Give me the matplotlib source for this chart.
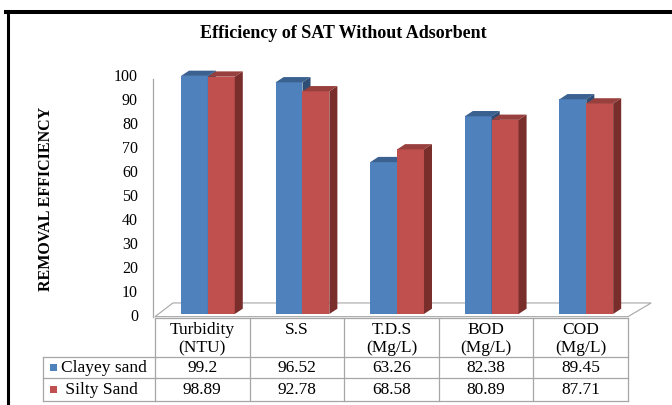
import numpy as np
import matplotlib
matplotlib.use("Agg")
import matplotlib.pyplot as plt
from matplotlib.patches import Polygon, Rectangle
from matplotlib.lines import Line2D
from matplotlib.transforms import blended_transform_factory, offset_copy

plt.rcParams['font.family'] = ['Liberation Serif', 'DejaVu Serif']

# data
categories = ["Turbidity\n(NTU)", "S.S", "T.D.S\n(Mg/L)", "BOD\n(Mg/L)", "COD\n(Mg/L)"]
series_names = ["Clayey sand", " Silty Sand"]
clayey = [99.2, 96.52, 63.26, 82.38, 89.45]
silty = [98.89, 92.78, 68.58, 80.89, 87.71]
yticks = [0, 10, 20, 30, 40, 50, 60, 70, 80, 90, 100]

# colours: front, top, side
blue = ("#4F81BD", "#3A6190", "#2E4E75")
red = ("#C0504D", "#98403D", "#7A2E2C")
grid_col = "#A6A6A6"

W, H = 672, 405
fig = plt.figure(figsize=(W / 100, H / 100), dpi=100)

def fx(px):
    return px / W

def fy(py):
    return 1 - py / H

# plot area: x in category units, y in value units
ax = fig.add_axes([fx(155), fy(314), fx(628) - fx(155), fy(74) - fy(314)])
ax.set_xlim(0, 5)
ax.set_ylim(0, 100)
ax.axis("off")

# 3d offsets in data units
dx, dy = 0.085, 2.2
w = 0.284
offs = [0.275, 0.559]

# floor
fdx0, fdx1, fback, ffront = 0.19, 0.245, 4.6, -1.1
floor = Polygon([(0, ffront), (5, ffront), (5 + fdx1, fback), (fdx0, fback)],
                closed=True, facecolor="white", edgecolor=grid_col, lw=0.8,
                clip_on=False, zorder=1)
ax.add_patch(floor)
ax.plot([-0.02, -0.02], [ffront, 98], color=grid_col, lw=0.9, clip_on=False, zorder=1)

z = 2
for i in range(len(categories)):
    for vals, cols, off in [(clayey, blue, offs[0]), (silty, red, offs[1])]:
        v = vals[i]
        x0 = i + off
        ax.bar(x0, v, width=w, align="edge", color=cols[0], lw=0, zorder=z, clip_on=False)
        top = Polygon([(x0, v), (x0 + w, v), (x0 + w + dx, v + dy), (x0 + dx, v + dy)],
                      closed=True, facecolor=cols[1], lw=0, zorder=z + 0.1, clip_on=False)
        side = Polygon([(x0 + w, 0), (x0 + w + dx, dy), (x0 + w + dx, v + dy), (x0 + w, v)],
                       closed=True, facecolor=cols[2], lw=0, zorder=z + 0.1, clip_on=False)
        ax.add_patch(top)
        ax.add_patch(side)
        z += 1

# y tick labels
tick_tr = offset_copy(blended_transform_factory(fig.transFigure, ax.transData),
                      fig=fig, x=0, y=-3, units="dots")
for t in yticks:
    ax.text(fx(138), t, str(t), transform=tick_tr, ha="right", va="center",
            fontsize=11.5, clip_on=False)

# data table
tr = blended_transform_factory(ax.transData, fig.transFigure)
rows_y = [fy(318), fy(357), fy(378), fy(401)]
lw_t = 0.9
for k in range(len(categories) + 1):
    fig.add_artist(Line2D([k, k], [rows_y[0], rows_y[3]], transform=tr, color=grid_col, lw=lw_t))
fig.add_artist(Line2D([0, 5], [rows_y[0]] * 2, transform=tr, color=grid_col, lw=lw_t))
for ry in rows_y[1:]:
    fig.add_artist(Line2D([fx(43), fx(155)], [ry, ry], transform=fig.transFigure, color=grid_col, lw=lw_t))
    fig.add_artist(Line2D([0, 5], [ry, ry], transform=tr, color=grid_col, lw=lw_t))
fig.add_artist(Line2D([fx(43), fx(43)], [rows_y[1], rows_y[3]], transform=fig.transFigure,
                      color=grid_col, lw=lw_t))

tsize = 12.5
for i, c in enumerate(categories):
    fig.text(i + 0.5, fy(322), c, transform=tr, ha="center", va="top",
             fontsize=tsize, linespacing=1.2)
    fig.text(i + 0.5, (rows_y[1] + rows_y[2]) / 2, f"{clayey[i]:g}", transform=tr,
             ha="center", va="center", fontsize=tsize)
    fig.text(i + 0.5, (rows_y[2] + rows_y[3]) / 2, f"{silty[i]:g}", transform=tr,
             ha="center", va="center", fontsize=tsize)

for r, (name, cols) in enumerate(zip(series_names, [blue, red])):
    yc = (rows_y[1 + r] + rows_y[2 + r]) / 2
    fig.add_artist(Rectangle((fx(50), yc - 3.5 / H), 7 / W, 7 / H, transform=fig.transFigure,
                             facecolor=cols[0], lw=0))
    fig.text(fx(61), yc, name, ha="left", va="center", fontsize=tsize)

# titles
fig.text(fx(343), fy(33), "Efficiency of SAT Without Adsorbent", ha="center", va="center",
         fontsize=13, fontweight="bold")
fig.text(fx(46), fy(199), "REMOVAL EFFICIENCY", ha="center", va="center", rotation=90,
         fontsize=11.5, fontweight="bold")

# outer frame (left and top only, rest is cut off)
fig.add_artist(Line2D([fx(7.5), fx(7.5)], [0, fy(10.5)], transform=fig.transFigure,
                      color="black", lw=2.2))
fig.add_artist(Line2D([fx(6), 1], [fy(12), fy(12)], transform=fig.transFigure,
                      color="black", lw=2.9))

fig.savefig("out.png", dpi=100)
